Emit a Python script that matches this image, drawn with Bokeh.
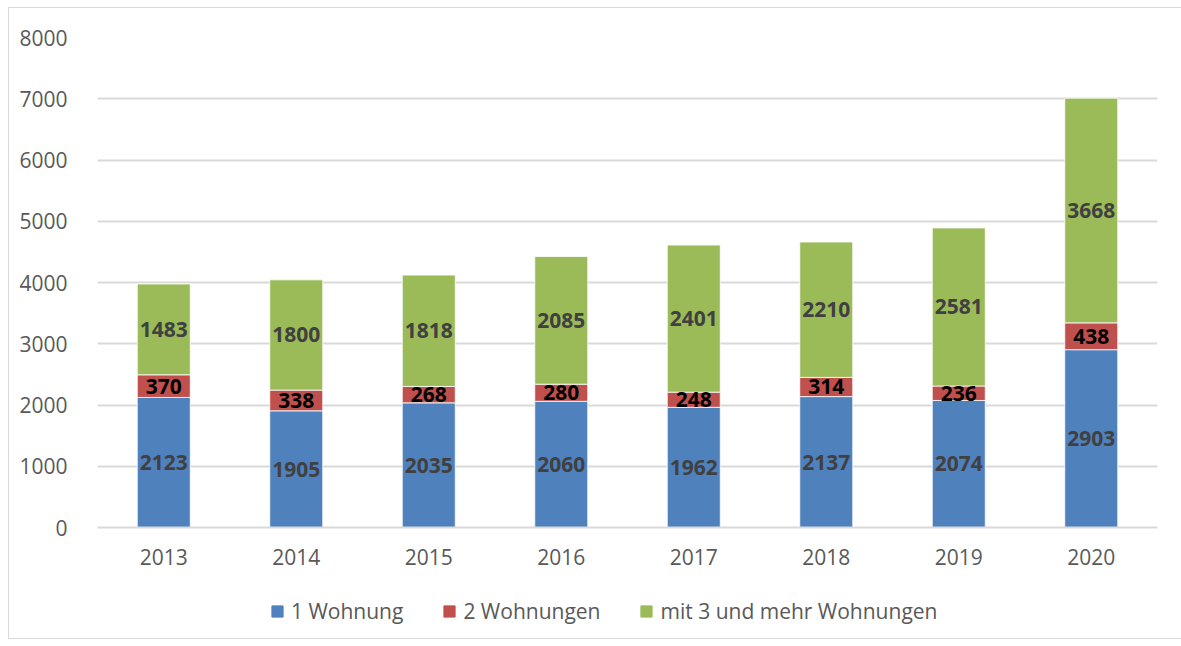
from bokeh.plotting import figure
from bokeh.layouts import column
from bokeh.models import ColumnDataSource, FactorRange, Range1d, Legend, LegendItem, FixedTicker
from bokeh.embed import file_html
from bokeh.resources import INLINE
from bokeh.core.properties import value

years = ["2013", "2014", "2015", "2016", "2017", "2018", "2019", "2020"]
one_flat = [2123, 1905, 2035, 2060, 1962, 2137, 2074, 2903]
two_flats = [370, 338, 268, 280, 248, 314, 236, 438]
three_plus = [1483, 1800, 1818, 2085, 2401, 2210, 2581, 3668]
series_names = ["1 Wohnung", "2 Wohnungen", "mit 3 und mehr Wohnungen"]
y_ticks = [0, 1000, 2000, 3000, 4000, 5000, 6000, 7000, 8000]

colors = ["#4f81bd", "#c0504d", "#9bbb59"]
FONT = "Open Sans"
FS = "21px"

src = ColumnDataSource(dict(
    year=years,
    one=one_flat,
    two=two_flats,
    three=three_plus,
    mid1=[a / 2 for a in one_flat],
    mid2=[a + b / 2 for a, b in zip(one_flat, two_flats)],
    mid3=[a + b + c / 2 for a, b, c in zip(one_flat, two_flats, three_plus)],
    lab1=[str(v) for v in one_flat],
    lab2=[str(v) for v in two_flats],
    lab3=[str(v) for v in three_plus],
))

p = figure(
    x_range=FactorRange(*years, range_padding=0),
    y_range=Range1d(0, 8000),
    width=1173, height=565,
    min_border_left=88, min_border_top=29, min_border_right=25, min_border_bottom=46,
    output_backend="svg", toolbar_location=None,
)
p.outline_line_color = None

rs = p.vbar_stack(["one", "two", "three"], x="year", width=0.4, source=src,
                  color=colors, line_color="white", line_width=0.8)

p.text(x="year", y="mid1", text="lab1", source=src, text_align="center", text_baseline="middle",
       text_font=value(FONT), text_font_style="bold", text_font_size=FS, text_color="#404040")
p.text(x="year", y="mid2", text="lab2", source=src, text_align="center", text_baseline="middle",
       text_font=value(FONT), text_font_style="bold", text_font_size=FS, text_color="#000000")
p.text(x="year", y="mid3", text="lab3", source=src, text_align="center", text_baseline="middle",
       text_font=value(FONT), text_font_style="bold", text_font_size=FS, text_color="#404040")

p.yaxis.ticker = FixedTicker(ticks=y_ticks)
p.yaxis.axis_line_color = None
p.yaxis.major_tick_line_color = None
p.yaxis.minor_tick_line_color = None
p.yaxis.major_label_standoff = 24
p.yaxis.major_label_text_font = FONT
p.yaxis.major_label_text_font_size = FS
p.yaxis.major_label_text_color = "#595959"

p.xaxis.axis_line_color = "#d9d9d9"
p.xaxis.axis_line_width = 2
p.xaxis.major_tick_line_color = None
p.xaxis.minor_tick_line_color = None
p.xaxis.major_label_standoff = 15
p.xaxis.major_label_text_font = FONT
p.xaxis.major_label_text_font_size = FS
p.xaxis.major_label_text_color = "#595959"

p.xgrid.grid_line_color = None
p.ygrid.grid_line_color = "#d9d9d9"
p.ygrid.grid_line_width = 2

# legend strip below the chart
p2 = figure(
    x_range=Range1d(0, 1), y_range=Range1d(0, 1),
    width=1173, height=65, min_border=0,
    output_backend="svg", toolbar_location=None,
)
p2.axis.visible = False
p2.grid.visible = False
p2.outline_line_color = None
dummy = [p2.vbar(x=[-5], top=[0], width=0.1, color=c) for c in colors]

legend = Legend(
    items=[LegendItem(label=n, renderers=[r]) for n, r in zip(series_names, dummy)],
    orientation="horizontal", location=(173, 13),
    border_line_color=None, background_fill_alpha=0,
    glyph_width=14, glyph_height=14, label_standoff=7, spacing=39,
    label_text_font=FONT, label_text_font_size=FS, label_text_color="#595959",
    padding=0, margin=0,
)
p2.add_layout(legend, "center")

layout = column(p, p2, spacing=0,
                styles={"border": "1px solid #d9d9d9", "margin": "7px 0 0 8px"})

open("out.html", "w").write(file_html(layout, INLINE))
